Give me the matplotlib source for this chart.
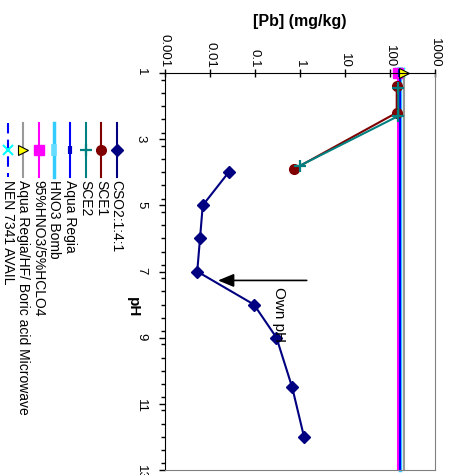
import matplotlib
matplotlib.use("Agg")
import matplotlib.pyplot as plt
from matplotlib.ticker import FixedLocator, NullLocator, MultipleLocator, FuncFormatter

plt.rcParams["font.family"] = ["Liberation Sans", "DejaVu Sans"]

# leached Pb per pH
ph_cso2 = [4, 5, 6, 7, 8, 9, 10.5, 12]
pb_cso2 = [0.026, 0.0069, 0.006, 0.0052, 0.095, 0.30, 0.67, 1.23]

ph_sce1 = [1.4, 2.2, 3.9]
pb_sce1 = [141, 141, 0.75]

ph_sce2 = [1.45, 2.3, 3.8]
pb_sce2 = [153, 153, 1.0]

# total digestions, constant over the pH range
ph_range = [1, 13]
pb_aqua_regia = 167
pb_hno3_bomb = 163
pb_hno3_hclo4 = 151
pb_microwave = 205
pb_nen = 167

pb_ticks = [0.001, 0.01, 0.1, 1, 10, 100, 1000]
ph_ticks = [1, 3, 5, 7, 9, 11, 13]

series = [
    ("CSO2:1:4:1", ph_cso2, pb_cso2,
     dict(color="#000080", lw=1.5, marker="D", ms=6, mfc="#000080", mec="#000080")),
    ("SCE1", ph_sce1, pb_sce1,
     dict(color="#800000", lw=1.5, marker="o", ms=7, mfc="#800000", mec="#800000")),
    ("SCE2", ph_sce2, pb_sce2,
     dict(color="#008080", lw=1.5, marker="+", ms=8, mew=1.6, mec="#008080")),
    ("Aqua Regia", ph_range, [pb_aqua_regia] * 2,
     dict(color="#0000FF", lw=1.5, marker="|", ms=6, mew=3, mec="#0000CC")),
    ("HNO3 Bomb", ph_range, [pb_hno3_bomb] * 2,
     dict(color="#33CCFF", lw=2.5, marker="|", ms=8, mew=4, mec="#66DDFF")),
    ("95%HNO3/5%HCLO4", ph_range, [pb_hno3_hclo4] * 2,
     dict(color="#FF00FF", lw=1.5, marker="s", ms=7, mfc="#FF00FF", mec="#FF00FF")),
    ("Aqua Regia/HF/ Boric acid Microwave", ph_range, [pb_microwave] * 2,
     dict(color="#999999", lw=1.5, marker=">", ms=7, mfc="#FFFF00", mec="black", mew=0.8)),
    ("NEN 7341 AVAIL", ph_range, [pb_nen] * 2,
     dict(color="#0000FF", lw=1.5, ls=(0, (5, 3)), marker="x", ms=7, mew=1.5, mec="#00FFFF")),
]

fig = plt.figure(figsize=(4.51, 4.75), dpi=100)

# legend drawn by hand in pixel coordinates, rotated like the chart
lax = fig.add_axes([0, 0, 1, 1])
lax.set_xlim(0, 451)
lax.set_ylim(475, 0)
lax.axis("off")

ax = fig.add_axes([165 / 451, 5 / 475, 270 / 451, 397 / 475])
ax.set_xscale("log")
ax.set_xlim(0.001, 1000)
ax.set_ylim(13, 1)

draw_order = [7, 4, 5, 3, 6, 0, 1, 2]
for i in draw_order:
    label, ph, pb, st = series[i]
    if len(ph) == 2:
        ax.plot(pb, ph, markevery=[0], clip_on=False, zorder=2, **st)
    else:
        ax.plot(pb, ph, zorder=3, **st)

for i, (label, ph, pb, st) in enumerate(series):
    x = 116.7 - 15.6 * i
    line_st = {k: v for k, v in st.items() if k in ("color", "lw", "ls")}
    mark_st = {k: v for k, v in st.items() if k not in ("lw", "ls")}
    lax.plot([x, x], [123, 177], **line_st)
    lax.plot([x], [150], ls="none", **mark_st)
    lax.text(x, 180, label, rotation=-90, ha="center", va="top", fontsize=10)

ax.annotate("", xy=(0.0151, 7.27), xytext=(1.41, 7.27),
            arrowprops=dict(arrowstyle="-|>,head_length=0.6,head_width=0.25",
                            color="black", lw=1.2, mutation_scale=16,
                            shrinkA=0, shrinkB=0))
ax.text(0.34, 8.29, "Own pH", rotation=-90, ha="center", va="center", fontsize=11)

ax.xaxis.tick_top()
ax.xaxis.set_major_locator(FixedLocator(pb_ticks))
ax.xaxis.set_minor_locator(NullLocator())
ax.xaxis.set_major_formatter(FuncFormatter(lambda v, p: f"{v:g}"))
ax.yaxis.set_major_locator(FixedLocator(ph_ticks))
ax.yaxis.set_minor_locator(MultipleLocator(0.4))

ax.tick_params(axis="x", which="major", direction="inout", length=6, width=1,
               labelrotation=-90, labelsize=9.5, pad=1)
ax.tick_params(axis="y", which="major", direction="out", length=4, width=1,
               labelrotation=-90, labelsize=9.5, pad=9)
ax.tick_params(axis="y", which="minor", direction="out", length=3, width=1)

ax.spines["top"].set_color("black")
ax.spines["left"].set_color("black")
ax.spines["right"].set_color("#808080")
ax.spines["bottom"].set_color("#808080")

ax.xaxis.set_label_position("top")
ax.set_xlabel("[Pb] (mg/kg)", fontsize=11.5, fontweight="bold", labelpad=6)
ax.set_ylabel("pH", fontsize=11, fontweight="bold", rotation=-90)
ax.yaxis.set_label_coords(-0.145, 0.41)

plt.savefig("out.png", dpi=100)
